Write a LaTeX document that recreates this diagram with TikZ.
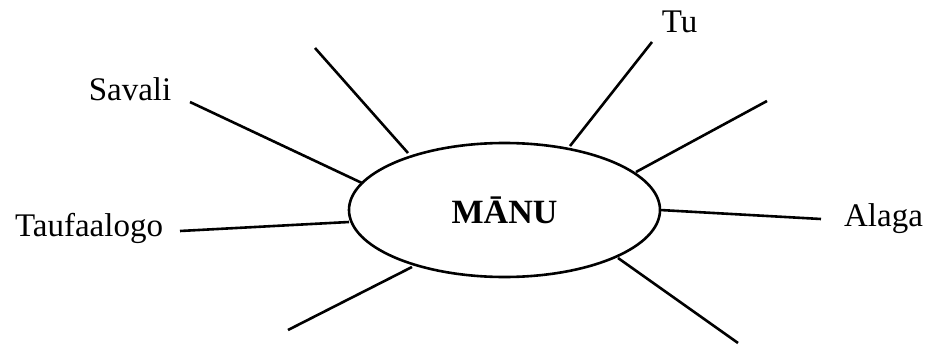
\documentclass[tikz,border=0pt]{standalone}
\usepackage{fontspec}
\setmainfont{Liberation Serif}
\usetikzlibrary{shapes.geometric}
\begin{document}
\begin{tikzpicture}[x=1pt,y=-1pt,
  spoke/.style={line width=2.6pt},
  hub/.style={ellipse,draw,line width=2.6pt,minimum width=311pt,minimum height=134pt,inner sep=0pt,
    font=\fontsize{34}{38}\selectfont\bfseries},
  lab/.style={anchor=base,inner sep=0pt,font=\fontsize{33}{38}\selectfont}]
\useasboundingbox (0,0) rectangle (935,345);
\node[hub] (m) at (504.5,210) {\raisebox{-4pt}{MĀNU}};
% labels
\node[lab] (savali) at (130,100.5) {Savali};
\node[lab] (tauf) at (89,236) {Taufaalogo};
\node[lab] (tu) at (679.5,32.5) {Tu};
\node[lab] (alaga) at (883.5,226.5) {Alaga};
% outer ends
\coordinate (o1) at (315,48);
\coordinate (o2) at (190,102);
\coordinate (o3) at (180,231);
\coordinate (o4) at (288,330);
\coordinate (o5) at (652,42);
\coordinate (o6) at (767,101);
\coordinate (o7) at (821,219);
\coordinate (o8) at (738,343);
% inner ends on the ellipse
\coordinate (i1) at (408,153);
\coordinate (i2) at (362,183);
\coordinate (i3) at (349,222);
\coordinate (i4) at (412,267);
\coordinate (i5) at (570,146);
\coordinate (i6) at (636,172);
\coordinate (i7) at (660,210);
\coordinate (i8) at (618,258);
\foreach \k in {1,...,8} \draw[spoke] (o\k) -- (i\k);
\end{tikzpicture}
\end{document}
